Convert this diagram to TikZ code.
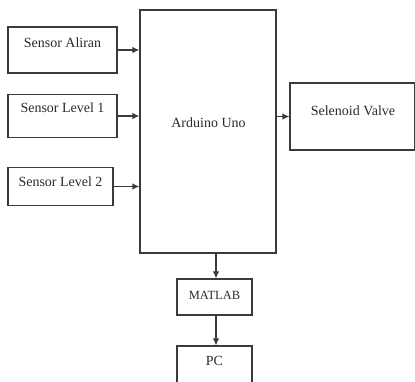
\documentclass[tikz,border=0pt]{standalone}
\usepackage{fontspec}
\setmainfont{Liberation Serif}
\usetikzlibrary{arrows.meta}
\definecolor{linec}{HTML}{3A3A3A}
\definecolor{textc}{HTML}{2A2A2A}
\tikzset{
  box/.style={draw=linec, line width=1.2pt, inner sep=0pt},
  lbl/.style={text=textc, font=\fontsize{14}{16}\selectfont, inner sep=0pt},
  arr/.style={draw=linec, line width=1.2pt, -{Latex[length=7pt,width=6.5pt]}}
}
\begin{document}
\begin{tikzpicture}[x=1pt, y=-1pt]
    \useasboundingbox (0, 0) rectangle (415, 381);
    \clip (0, 0) rectangle (415, 381);
    % Arduino
    \node[box, minimum width=136pt, minimum height=243pt] (ard) at (208, 131.5) {};
    \node[lbl] (ardt) at (208.5, 123) {Arduino Uno};

    % sensor
    \node[box, minimum width=109pt, minimum height=46pt] (sal) at (62.5, 50) {};
    \node[lbl] (salt) at (62.5, 43) {Sensor Aliran};
    \node[box, minimum width=109pt, minimum height=43pt] (sl1) at (62.5, 116) {};
    \node[lbl] (sl1t) at (62.5, 107.5) {Sensor Level 1};
    \node[box, minimum width=105pt, minimum height=38pt] (sl2) at (60.5, 186.5) {};
    \node[lbl] (sl2t) at (60.5, 182) {Sensor Level 2};

    % keluaran
    \node[box, minimum width=125pt, minimum height=67pt] (val) at (352.5, 116.5) {};
    \node[lbl] (valt) at (353, 111) {Selenoid Valve};
    \node[box, minimum width=75pt, minimum height=36pt] (mat) at (214.5, 297) {};
    \node[lbl, font=\fontsize{12.5}{14}\selectfont] (matt) at (214.5, 295.5) {MATLAB};
    \node[box, minimum width=75pt, minimum height=50pt] (pc) at (214.5, 371) {};
    \node[lbl] (pct) at (214.5, 361) {PC};

    % panah
    \draw[arr] (sal.east) -- (sal.east -| ard.west);
    \draw[arr] (sl1.east) -- (sl1.east -| ard.west);
    \draw[arr] (sl2.east) -- (sl2.east -| ard.west);
    \draw[arr] (ard.east |- val.west) -- (val.west);
    \draw[arr] (ard.south -| mat.north) ++(1.5, 0) coordinate (a1) -- (a1 |- mat.north);
    \draw[arr] (mat.south) ++(1.5, 0) coordinate (a2) -- (a2 |- pc.north);
\end{tikzpicture}
\end{document}
